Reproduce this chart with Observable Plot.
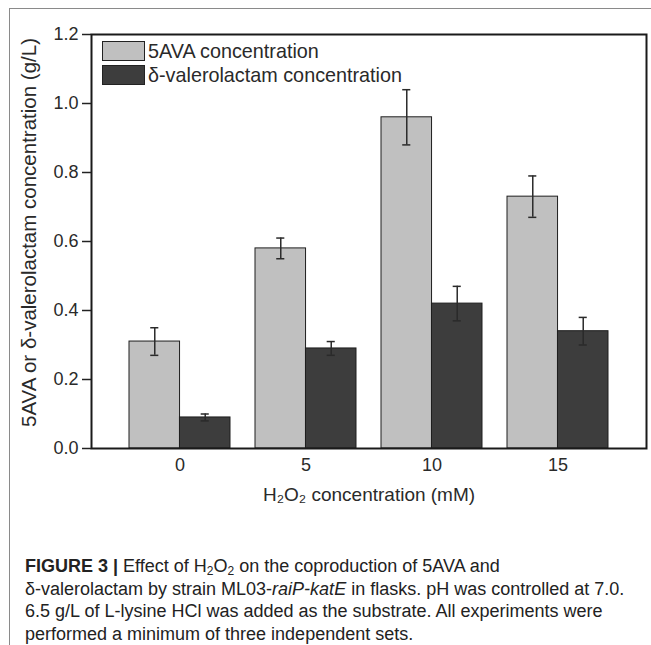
<!DOCTYPE html>
<html><head><meta charset="utf-8">
<script src="https://cdn.jsdelivr.net/npm/d3@7"></script>
<script src="https://cdn.jsdelivr.net/npm/@observablehq/plot@0.6"></script>
<style>
body{margin:0;background:#fff;font-family:"Liberation Sans",Arial,sans-serif;}
#fig{position:relative;width:651px;height:645px;overflow:hidden;background:#fff;}
#border{position:absolute;left:9px;top:8px;width:700px;height:700px;border-top:1px solid #8a8a8a;border-left:1px solid #8a8a8a;}
#chart{position:absolute;left:0;top:0;}
#legend{position:absolute;left:102px;top:41px;font-size:19.8px;color:#2a2a2a;}
#legend .row{display:flex;align-items:center;height:20px;margin-bottom:4px;white-space:nowrap;}
#legend .sw{width:41px;height:18px;border:1px solid #222;margin-right:3px;}
#caption{position:absolute;left:25px;top:555px;font-size:18px;line-height:22.6px;color:#222;white-space:nowrap;}
#caption sub{font-size:12px;vertical-align:-3px;line-height:0;}
g[aria-label="x-axis label"] text{font-size:19px;}
</style>
</head><body>
<div id="fig">
  <div id="border"></div>
  <div id="chart"></div>
  <div id="legend"></div>
  <div id="caption"></div>
</div>
<script>
// ---- data ----
const concentrations = ["0", "5", "10", "15"];
const avaValues = [0.31, 0.58, 0.96, 0.73];
const avaErrors = [0.04, 0.03, 0.08, 0.06];
const lactamValues = [0.09, 0.29, 0.42, 0.34];
const lactamErrors = [0.01, 0.02, 0.05, 0.04];
const seriesNames = ["5AVA concentration", "δ-valerolactam concentration"];
const seriesColors = ["#c0c0c0", "#3d3d3d"];
const yTicks = [0, 0.2, 0.4, 0.6, 0.8, 1.0, 1.2];
const xLabel = "H₂O₂ concentration (mM)";
const yLabel = "5AVA or δ-valerolactam concentration (g/L)";

// ---- layout ----
const W = 651, H = 530, ml = 91, mr = 5, mt = 34, mb = 82;
const padIn = 0.2, padOut = 0.3;
const step = (W - ml - mr) / (concentrations.length - padIn + 2 * padOut);
const bw = step * (1 - padIn);
const half = bw / 2, cap = 4;

const avaRows = concentrations.map((c, i) => ({c, v: avaValues[i], e: avaErrors[i]}));
const lacRows = concentrations.map((c, i) => ({c, v: lactamValues[i], e: lactamErrors[i]}));

const errStyle = {stroke: "#2a2a2a", strokeWidth: 1.5};

const plot = Plot.plot({
  width: W, height: H,
  marginLeft: ml, marginRight: mr, marginTop: mt, marginBottom: mb,
  style: {fontFamily: "Liberation Sans, Arial, sans-serif", fontSize: "18px", color: "#2a2a2a", background: "transparent"},
  x: {domain: concentrations, paddingInner: padIn, paddingOuter: padOut},
  y: {domain: [0, 1.2]},
  marks: [
    Plot.barY(avaRows, {x: "c", y: "v", fill: seriesColors[0], stroke: "#1e1e1e", strokeWidth: 1, insetRight: half}),
    Plot.barY(lacRows, {x: "c", y: "v", fill: seriesColors[1], stroke: "#1e1e1e", strokeWidth: 1, insetLeft: half}),
    Plot.ruleX(avaRows, {x: "c", y1: d => d.v - d.e, y2: d => d.v + d.e, dx: -bw / 4, ...errStyle}),
    Plot.tickY(avaRows, {x: "c", y: d => d.v + d.e, insetLeft: bw / 4 - cap, insetRight: 3 * bw / 4 - cap, ...errStyle}),
    Plot.tickY(avaRows, {x: "c", y: d => d.v - d.e, insetLeft: bw / 4 - cap, insetRight: 3 * bw / 4 - cap, ...errStyle}),
    Plot.ruleX(lacRows, {x: "c", y1: d => d.v - d.e, y2: d => d.v + d.e, dx: bw / 4, ...errStyle}),
    Plot.tickY(lacRows, {x: "c", y: d => d.v + d.e, insetLeft: 3 * bw / 4 - cap, insetRight: bw / 4 - cap, ...errStyle}),
    Plot.tickY(lacRows, {x: "c", y: d => d.v - d.e, insetLeft: 3 * bw / 4 - cap, insetRight: bw / 4 - cap, ...errStyle}),
    Plot.axisY({ticks: yTicks, tickFormat: d3.format(".1f"), tickSize: 9, tickPadding: 4, stroke: "#222", strokeWidth: 1.5, label: null}),
    Plot.text([yLabel], {text: d => d, frameAnchor: "left", textAnchor: "middle", lineAnchor: "middle", rotate: -90, dx: -62, dy: -9, fontSize: 20.5, fill: "#2a2a2a"}),
    Plot.axisX({tickSize: 0, tickPadding: 10, label: xLabel, labelAnchor: "center", labelArrow: "none", labelOffset: 52}),
    Plot.frame({stroke: "#1a1a1a", strokeWidth: 2})
  ]
});
document.getElementById("chart").appendChild(plot);

// ---- legend ----
const legend = d3.select("#legend");
seriesNames.forEach((name, i) => {
  const row = legend.append("div").attr("class", "row");
  row.append("div").attr("class", "sw").style("background", seriesColors[i]);
  row.append("span").text(name);
});

// ---- caption ----
document.getElementById("caption").innerHTML =
  "<b>FIGURE 3 |</b> Effect of H<sub>2</sub>O<sub>2</sub> on the coproduction of 5AVA and<br>" +
  "δ-valerolactam by strain ML03-<i>raiP-katE</i> in flasks. pH was controlled at 7.0.<br>" +
  "6.5 g/L of L-lysine HCl was added as the substrate. All experiments were<br>" +
  "performed a minimum of three independent sets.";
</script>
</body></html>
